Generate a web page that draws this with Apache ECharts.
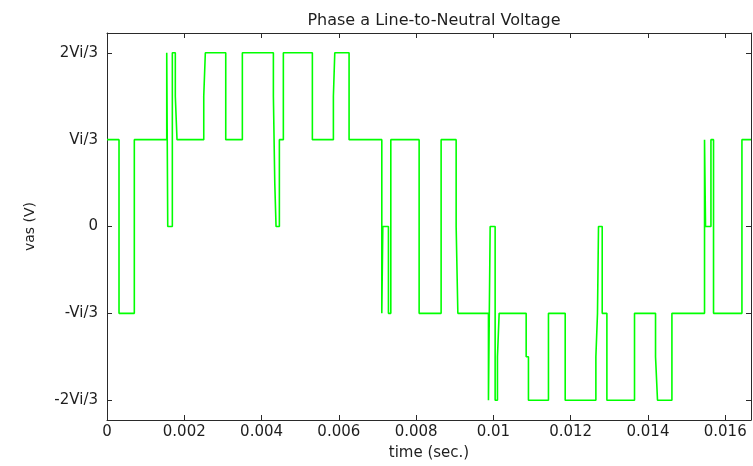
<!DOCTYPE html>
<html>
<head>
<meta charset="UTF-8">
<title>Phase a Line-to-Neutral Voltage</title>
<style>
    html,body{margin:0;padding:0;background:#fff;}
    #chart{width:753px;height:466px;}
</style>
</head>
<body>
<div id="chart"></div>
<script src="https://cdn.jsdelivr.net/npm/echarts@6/dist/echarts.min.js"></script>
<script>
    // switching instants (sec.) and the level reached there, in units of Vi/3
    var switchTimes = [0, 0.000311, 0.000707, 0.001546, 0.001572, 0.001691, 0.001768, 0.001812,
        0.002504, 0.002545, 0.003073, 0.003503, 0.004306, 0.004342, 0.004375, 0.004461, 0.004564,
        0.005315, 0.005859, 0.005895, 0.006265, 0.007112, 0.007138, 0.007283, 0.007345,
        0.008078, 0.008647, 0.009036, 0.009080,
        0.009872, 0.009916, 0.010045, 0.010105, 0.010149, 0.010848, 0.010907, 0.011425, 0.011858,
        0.012652, 0.012694, 0.012720, 0.012816, 0.012937, 0.013652, 0.014196, 0.014247, 0.014620,
        0.015464, 0.015490, 0.015630, 0.015697, 0.016432];
    var levels = [1, -1, 1, 2, 0, 2, 1.5, 1,
        1.5, 2, 1, 2, 1.5, 0.5, 0, 1, 2,
        1, 1.5, 2, 1, -1, 0, -1, 1,
        -1, 1, 0, -1,
        -2, 0, -2, -1.5, -1, -1.5, -2, -1, -2,
        -1.5, -1, 0, -1, -2, -1, -1.5, -2, -1,
        1, 0, 1, -1, 1];

    var xTicks = [0, 0.002, 0.004, 0.006, 0.008, 0.01, 0.012, 0.014, 0.016];
    var yTicks = [-2, -1, 0, 1, 2];
    var yTickLabels = ['-2Vi/3', '-Vi/3', '0', 'Vi/3', '2Vi/3'];

    var xMax = 1 / 60;
    var yLim = 2.228;

    var axisColor = '#2a2a2a';
    var textColor = '#1e1e1e';
    var font = 'DejaVu Sans';

    // staircase: vertical edge at every switching instant, hold until the next one
    var points = [];
    switchTimes.forEach(function (t, i) {
        if (i > 0) points.push([t, levels[i - 1]]);
        points.push([t, levels[i]]);
    });
    points.push([xMax, levels[levels.length - 1]]);

    var chart = echarts.init(document.getElementById('chart'));
    var option = {
        animation: false,
        backgroundColor: '#fff',
        title: {
            text: 'Phase a Line-to-Neutral Voltage',
            left: 429,
            textAlign: 'center',
            top: 8,
            textStyle: {color: textColor, fontSize: 16, fontWeight: 'normal', fontFamily: font}
        },
        grid: {left: 107, right: 2, top: 33, bottom: 42},
        xAxis: [{
            type: 'value',
            min: 0,
            max: xMax,
            name: 'time (sec.)',
            nameLocation: 'middle',
            nameGap: 26,
            nameTextStyle: {color: textColor, fontSize: 15, fontFamily: font},
            axisLine: {onZero: false, lineStyle: {color: axisColor, width: 1}},
            axisTick: {inside: true, length: 5, customValues: xTicks, lineStyle: {color: axisColor}},
            axisLabel: {
                customValues: xTicks,
                margin: 5,
                color: textColor,
                fontSize: 15,
                fontFamily: font,
                formatter: function (v) { return String(+v.toFixed(3)); }
            },
            splitLine: {show: false}
        }, {
            type: 'value',
            position: 'top',
            min: 0,
            max: xMax,
            axisLine: {show: true, onZero: false, lineStyle: {color: axisColor, width: 1}},
            axisTick: {inside: true, length: 5, customValues: xTicks, lineStyle: {color: axisColor}},
            axisLabel: {show: false},
            splitLine: {show: false}
        }],
        yAxis: [{
            type: 'value',
            min: -yLim,
            max: yLim,
            name: 'vas (V)',
            nameLocation: 'middle',
            nameGap: 70,
            nameTextStyle: {color: textColor, fontSize: 14, fontFamily: font},
            axisLine: {show: true, onZero: false, lineStyle: {color: axisColor, width: 1}},
            axisTick: {inside: true, length: 5, customValues: yTicks, lineStyle: {color: axisColor}},
            axisLabel: {
                customValues: yTicks,
                margin: 9,
                color: textColor,
                fontSize: 15,
                fontFamily: font,
                formatter: function (v) { return yTickLabels[yTicks.indexOf(Math.round(v))]; }
            },
            splitLine: {show: false}
        }, {
            type: 'value',
            position: 'right',
            min: -yLim,
            max: yLim,
            axisLine: {show: true, onZero: false, lineStyle: {color: axisColor, width: 1}},
            axisTick: {inside: true, length: 5, customValues: yTicks, lineStyle: {color: axisColor}},
            axisLabel: {show: false},
            splitLine: {show: false}
        }],
        series: [{
            type: 'line',
            data: points,
            showSymbol: false,
            lineStyle: {color: '#00ff00', width: 1.6}
        }]
    };
    chart.setOption(option);
</script>
</body>
</html>
